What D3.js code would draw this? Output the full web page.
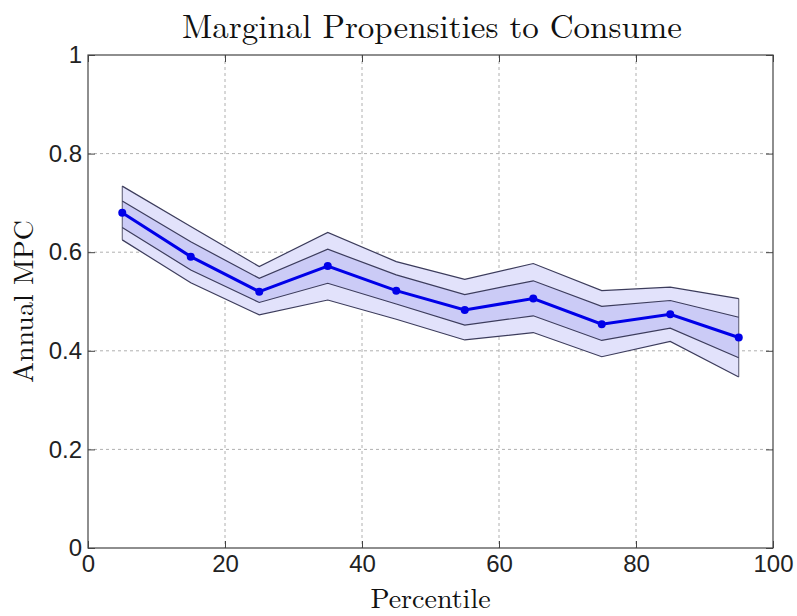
<!DOCTYPE html>
<html><head><meta charset="utf-8">
<script src="https://cdn.jsdelivr.net/npm/d3@7"></script>
<style>body{margin:0;background:#fff;}svg{display:block;}</style>
</head><body>
<svg id="c" width="797" height="616"></svg>
<script>
const percentiles = [5,15,25,35,45,55,65,75,85,95];
const mpc        = [0.680,0.591,0.520,0.572,0.522,0.483,0.506,0.454,0.474,0.427];
const outerUpper = [0.734,0.652,0.571,0.640,0.581,0.545,0.577,0.522,0.529,0.506];
const innerUpper = [0.704,0.621,0.547,0.606,0.554,0.514,0.542,0.490,0.502,0.468];
const innerLower = [0.650,0.564,0.498,0.537,0.495,0.452,0.471,0.421,0.446,0.386];
const outerLower = [0.625,0.538,0.473,0.503,0.464,0.422,0.437,0.388,0.419,0.347];
const xTicks = [0,20,40,60,80,100];
const yTicks = [0,0.2,0.4,0.6,0.8,1];

const svg = d3.select('#c');
const L=88, R=773, T=55, B=548;
const x = d3.scaleLinear().domain([0,100]).range([L,R]);
const y = d3.scaleLinear().domain([0,1]).range([B,T]);

// grid
const g = svg.append('g');
g.selectAll('.gx').data(xTicks.slice(1,-1)).enter().append('line')
 .attr('x1',d=>x(d)).attr('x2',d=>x(d)).attr('y1',T).attr('y2',B)
 .attr('stroke','#b0b0b0').attr('stroke-width',1).attr('stroke-dasharray','3,3');
g.selectAll('.gy').data(yTicks.slice(1,-1)).enter().append('line')
 .attr('y1',d=>y(d)).attr('y2',d=>y(d)).attr('x1',L).attr('x2',R)
 .attr('stroke','#b0b0b0').attr('stroke-width',1).attr('stroke-dasharray','3,3');

const idx = d3.range(percentiles.length);
const area = (lo,hi)=>d3.area().x(i=>x(percentiles[i])).y0(i=>y(lo[i])).y1(i=>y(hi[i]));
svg.append('path').datum(idx).attr('d',area(outerLower,outerUpper)).attr('fill','#e2e2fb');
svg.append('path').datum(idx).attr('d',area(innerLower,innerUpper)).attr('fill','#cbcbf6');

// vertical end edges
[0,percentiles.length-1].forEach(i=>{
  svg.append('line').attr('x1',x(percentiles[i])).attr('x2',x(percentiles[i]))
   .attr('y1',y(outerLower[i])).attr('y2',y(outerUpper[i]))
   .attr('stroke','#55556e').attr('stroke-width',1);
});
const ln = arr=>d3.line().x(i=>x(percentiles[i])).y(i=>y(arr[i]));
[outerUpper,innerUpper,innerLower,outerLower].forEach(a=>{
  svg.append('path').datum(idx).attr('d',ln(a)).attr('fill','none')
   .attr('stroke','#3c3c5c').attr('stroke-width',1.2);
});
svg.append('path').datum(idx).attr('d',ln(mpc)).attr('fill','none')
 .attr('stroke','#0000e8').attr('stroke-width',3);
svg.selectAll('.pt').data(idx).enter().append('circle')
 .attr('cx',i=>x(percentiles[i])).attr('cy',i=>y(mpc[i])).attr('r',4).attr('fill','#0000e8');

// box
svg.append('rect').attr('x',L).attr('y',T).attr('width',R-L).attr('height',B-T)
 .attr('fill','none').attr('stroke','#444').attr('stroke-width',1.2);

// axes
const font = '"Liberation Sans", Arial, sans-serif';
const ax = svg.append('g').attr('transform',`translate(0,${B})`)
 .call(d3.axisBottom(x).tickValues(xTicks).tickSize(-7).tickPadding(7).tickFormat(d3.format('d')));
const ay = svg.append('g').attr('transform',`translate(${L},0)`)
 .call(d3.axisLeft(y).tickValues(yTicks).tickSize(-7).tickPadding(6).tickFormat(d=>d===0||d===1?String(d):d3.format('.1f')(d)));
[ax,ay].forEach(a=>{
  a.select('.domain').remove();
  a.selectAll('.tick line').attr('stroke','#444');
  a.selectAll('.tick text').attr('font-family',font).attr('font-size',24).attr('fill','#222');
});
// top/right ticks
svg.append('g').attr('transform',`translate(0,${T})`)
 .call(d3.axisTop(x).tickValues(xTicks).tickSize(-7).tickFormat(''))
 .call(s=>{s.select('.domain').remove();s.selectAll('.tick line').attr('stroke','#444');});
svg.append('g').attr('transform',`translate(${R},0)`)
 .call(d3.axisRight(y).tickValues(yTicks).tickSize(-7).tickFormat(''))
 .call(s=>{s.select('.domain').remove();s.selectAll('.tick line').attr('stroke','#444');});

const serif = '"Latin Modern Roman","CMU Serif","Liberation Serif","DejaVu Serif",serif';
svg.append('text').attr('x',432).attr('y',38).attr('text-anchor','middle')
 .attr('font-family',serif).attr('font-size',33).attr('fill','#111').text('Marginal Propensities to Consume');
svg.append('text').attr('x',(L+R)/2).attr('y',608).attr('text-anchor','middle')
 .attr('font-family',serif).attr('font-size',28).attr('fill','#111').text('Percentile');
svg.append('text').attr('transform',`translate(33,${(T+B)/2}) rotate(-90)`).attr('text-anchor','middle')
 .attr('font-family',serif).attr('font-size',28).attr('fill','#111').text('Annual MPC');
</script>
</body></html>
